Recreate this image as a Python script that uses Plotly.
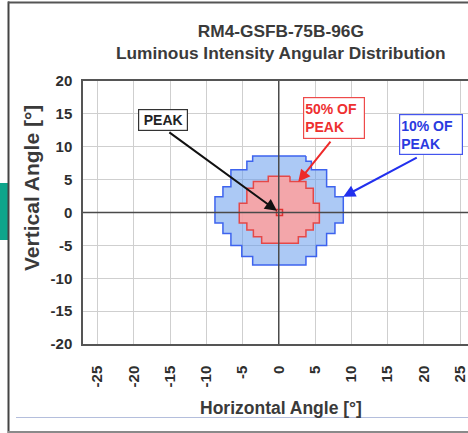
import plotly.graph_objects as go

# ---------------- data ----------------
x_ticks = [-25, -20, -15, -10, -5, 0, 5, 10, 15, 20, 25]
y_ticks = [-20, -15, -10, -5, 0, 5, 10, 15, 20]

# 10% of peak contour: row edges (vertical angle) and horizontal extent per row
blue_y_edges = [8.6, 7.8, 6.5, 3.9, 2.4, -1.6, -3.2, -5.0, -6.7, -8.0]
blue_x_left = [-3.6, -4.4, -6.6, -7.7, -8.8, -7.7, -6.6, -5.1, -3.6]
blue_x_right = [3.75, 4.5, 6.6, 7.75, 8.9, 7.75, 6.6, 5.2, 3.75]

# 50% of peak contour
red_y_edges = [5.5, 4.7, 3.7, 1.4, -1.6, -2.65, -3.67, -4.67]
red_x_left = [-1.45, -3.5, -4.4, -5.45, -4.4, -3.5, -2.36]
red_x_right = [1.55, 3.75, 4.76, 5.6, 4.76, 3.75, 2.7]

peak_x = [0.1]
peak_y = [0.0]

title_lines = ["RM4-GSFB-75B-96G", "Luminous Intensity Angular Distribution"]


def stair_polygon(edges, left, right):
    xs, ys = [], []
    for i, xr in enumerate(right):
        xs += [xr, xr]
        ys += [edges[i], edges[i + 1]]
    for i in range(len(left) - 1, -1, -1):
        xs += [left[i], left[i]]
        ys += [edges[i + 1], edges[i]]
    xs.append(xs[0])
    ys.append(ys[0])
    return xs, ys


W, H = 468, 433
ML, MR, MT, MB = 83, 0, 81, 89
PW, PH = W - ML - MR, H - MT - MB


def px(x):
    return (x - ML) / PW


def py(y):
    return (MT + PH - y) / PH


FONT = "Liberation Sans, Arial, sans-serif"
fig = go.Figure()

bx, by = stair_polygon(blue_y_edges, blue_x_left, blue_x_right)
fig.add_trace(go.Scatter(x=bx, y=by, mode="lines", fill="toself",
                         fillcolor="rgba(104,156,236,0.55)",
                         line=dict(color="#3d63ee", width=1.5),
                         hoverinfo="skip", showlegend=False))
rx, ry = stair_polygon(red_y_edges, red_x_left, red_x_right)
fig.add_trace(go.Scatter(x=rx, y=ry, mode="lines", fill="toself",
                         fillcolor="rgba(255,160,157,0.86)",
                         line=dict(color="#e54848", width=1.5),
                         hoverinfo="skip", showlegend=False))
fig.add_trace(go.Scatter(x=peak_x, y=peak_y, mode="markers",
                         marker=dict(symbol="square-open", size=6,
                                     color="#e03030", line=dict(width=1.5)),
                         hoverinfo="skip", showlegend=False))

shapes = []
shapes.append(dict(type="line", xref="x", yref="paper", x0=0, x1=0, y0=0, y1=1,
                   line=dict(color="#4a4a4a", width=1.5), layer="above"))
shapes.append(dict(type="line", xref="paper", yref="y", x0=0, x1=1, y0=0, y1=0,
                   line=dict(color="#4a4a4a", width=1.5), layer="above"))
shapes.append(dict(type="rect", xref="paper", yref="paper", x0=px(0), x1=px(8),
                   y0=py(240), y1=py(183), fillcolor="#0ea58b", line=dict(width=0)))
shapes.append(dict(type="line", xref="paper", yref="paper", x0=px(8.5), x1=px(8.5),
                   y0=py(1.5), y1=py(433), line=dict(color="#444", width=2)))
shapes.append(dict(type="line", xref="paper", yref="paper", x0=px(8), x1=px(468),
                   y0=py(2.5), y1=py(2.5), line=dict(color="#555", width=2)))
shapes.append(dict(type="line", xref="paper", yref="paper", x0=px(16), x1=px(468),
                   y0=py(417.5), y1=py(417.5), line=dict(color="#b4bedc", width=1)))
shapes.append(dict(type="line", xref="paper", yref="paper", x0=px(8), x1=px(468),
                   y0=py(432), y1=py(432), line=dict(color="#8a8a8a", width=2)))

annotations = []
annotations.append(dict(xref="paper", yref="paper", x=px(281), y=py(41.5),
                        text="<b>" + title_lines[0] + "</b><br><b>" + title_lines[1] + "</b>",
                        showarrow=False, font=dict(family=FONT, size=17.3, color="#3a3a3a"),
                        xanchor="center", yanchor="middle"))
annotations.append(dict(xref="paper", yref="paper", x=px(281), y=py(408),
                        text="<b>Horizontal Angle [°]</b>", showarrow=False,
                        font=dict(family=FONT, size=17.5, color="#3a3a3a"),
                        xanchor="center", yanchor="middle"))
annotations.append(dict(xref="paper", yref="paper", x=px(31), y=py(188),
                        text="<b>Vertical Angle [°]</b>", showarrow=False, textangle=-90,
                        font=dict(family=FONT, size=21, color="#3a3a3a"),
                        xanchor="center", yanchor="middle"))

arrows = [
    ((-15.3, 12.35), (-0.25, 0.25), "#111111"),
    ((7.3, 11.0), (2.69, 4.67), "#ee2a2a"),
    ((19.24, 8.45), (8.9, 2.4), "#2230ee"),
]
for (tx, ty), (hx, hy), col in arrows:
    annotations.append(dict(x=hx, y=hy, ax=tx, ay=ty, xref="x", yref="y",
                            axref="x", ayref="y", text="", showarrow=True,
                            arrowhead=2, arrowsize=1.2, arrowwidth=2, arrowcolor=col,
                            standoff=0, startstandoff=0))

boxes = [
    ((-15.97, 14.0), "<b>PEAK</b>", "#222222", "#333333", 46, 18, "center"),
    ((7.6, 14.4), "<b>50% OF<br>PEAK</b>", "#ee3030", "#ee4a4a", 58, 38, "left"),
    ((20.97, 11.9), "<b>10% OF<br>PEAK</b>", "#2a3ae0", "#4455ee", 60, 37, "left"),
]
for (bx_, by_), txt, tcol, bcol, w, h, al in boxes:
    annotations.append(dict(x=bx_, y=by_, xref="x", yref="y", text=txt, showarrow=False,
                            font=dict(family=FONT, size=14, color=tcol),
                            bgcolor="white", bordercolor=bcol, borderwidth=1.2,
                            borderpad=1, width=w, height=h, align=al,
                            xanchor="center", yanchor="middle"))

fig.update_layout(
    width=W, height=H,
    margin=dict(l=ML, r=MR, t=MT, b=MB, pad=0),
    paper_bgcolor="white", plot_bgcolor="white",
    shapes=shapes, annotations=annotations,
    font=dict(family=FONT),
)
fig.update_xaxes(range=[-27, 26.1], tickvals=x_ticks, ticktext=[str(v) for v in x_ticks],
                 tickangle=-90, showgrid=True, gridcolor="#cfcfcf", gridwidth=1,
                 zeroline=False, showline=True, mirror=True, linecolor="#555", linewidth=1.5,
                 ticks="", ticklabelstandoff=14,
                 tickfont=dict(family=FONT, size=15, color="#2e2e2e", weight="bold"))
fig.update_yaxes(range=[-20, 20], tickvals=y_ticks, ticktext=[str(v) for v in y_ticks],
                 showgrid=True, gridcolor="#cfcfcf", gridwidth=1,
                 zeroline=False, showline=True, mirror=False, linecolor="#555", linewidth=1.5,
                 ticks="", ticklabelstandoff=6,
                 tickfont=dict(family=FONT, size=15, color="#2e2e2e", weight="bold"))

fig.write_html("out.html", config={"displayModeBar": False},
               post_script="document.body.style.margin='0px';document.body.style.overflow='hidden';")
